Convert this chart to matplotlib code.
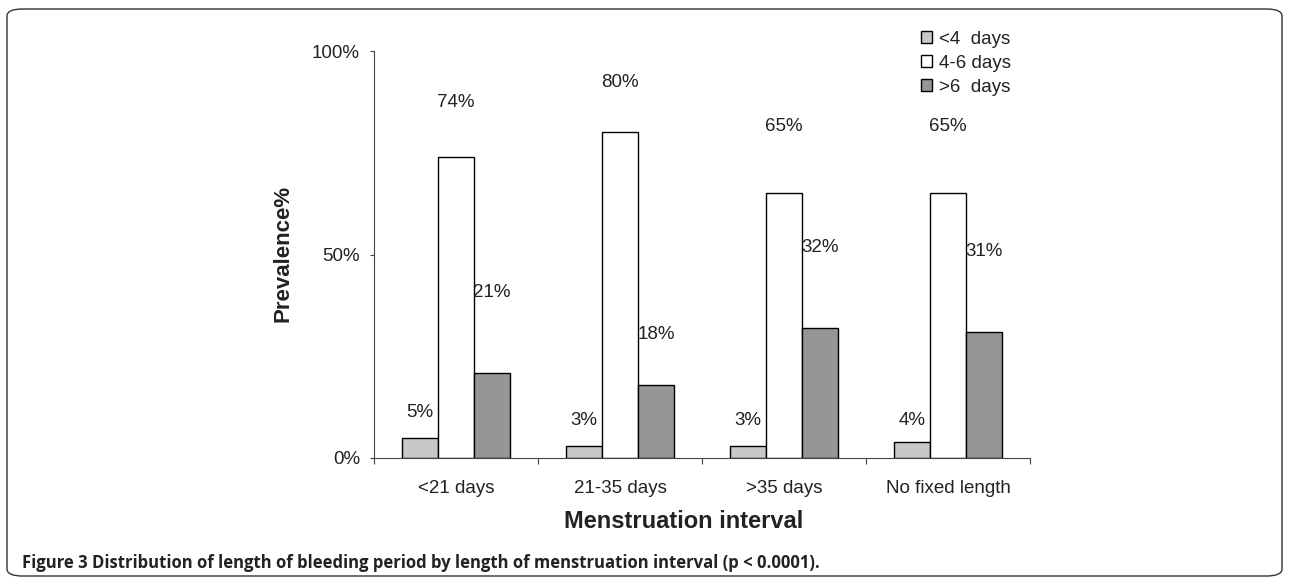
import matplotlib
matplotlib.use("Agg")
import matplotlib.pyplot as plt
import numpy as np
from matplotlib.patches import FancyBboxPatch

categories = ["<21 days", "21-35 days", ">35 days", "No fixed length"]
series_names = ["<4  days", "4-6 days", ">6  days"]
short_vals = [5, 3, 3, 4]
mid_vals = [74, 80, 65, 65]
long_vals = [21, 18, 32, 31]
y_ticks = [0, 50, 100]
y_ticklabels = ["0%", "50%", "100%"]

# style/layout
colors = ["#c8c8c8", "#ffffff", "#969696"]
label_offsets_px = [[25, 25, 25, 21], [54, 50, 67, 67], [80, 50, 80, 80]]
FS = 13.5

W, H = 1289, 581
fig = plt.figure(figsize=(W / 100, H / 100), dpi=100)
plt.rcParams['font.family'] = ['Liberation Sans', 'DejaVu Sans']

ax = fig.add_axes([374 / W, 1 - 458 / H, (1030 - 374) / W, (458 - 51) / H])

series = [short_vals, mid_vals, long_vals]
bw = 36 / 164
x = np.arange(len(categories)) + 0.5
for i, (vals, c, name) in enumerate(zip(series, colors, series_names)):
    xs = x + (i - 1) * bw
    ax.bar(xs, vals, width=bw, color=c, edgecolor="black", linewidth=1.0, label=name)
    for xi, v, off in zip(xs, vals, label_offsets_px[i]):
        ax.annotate(f"{v}%", (xi, v), xytext=(0, off * 72 / 100), textcoords="offset points",
                    ha="center", va="center", fontsize=FS, color="#222222")

ax.set_xlim(0, len(categories))
ax.set_ylim(0, 100)
ax.set_yticks(y_ticks)
ax.set_yticklabels(y_ticklabels, fontsize=FS, color="#222222")
ax.set_xticks(np.arange(len(categories) + 1))
ax.set_xticklabels([])
ax.set_xticks(x, minor=True)
ax.set_xticklabels(categories, minor=True, fontsize=FS, color="#222222")
ax.tick_params(axis="x", which="minor", length=0, pad=16)
ax.tick_params(axis="x", which="major", length=4, width=0.8, color="#444444")
ax.tick_params(axis="y", length=3, width=0.8, color="#444444", pad=7)
for s in ["top", "right"]:
    ax.spines[s].set_visible(False)
ax.spines["left"].set_color("#444444")
ax.spines["bottom"].set_color("#444444")
ax.spines["left"].set_linewidth(0.8)
ax.spines["bottom"].set_linewidth(0.8)

fig.text(684 / W, 1 - 521 / H, "Menstruation interval", fontsize=17, fontweight="bold",
         color="#222222", ha="center", va="center")
fig.text(283 / W, 1 - 253 / H, "Prevalence%", rotation=90, fontsize=16, fontweight="bold",
         color="#222222", ha="center", va="center")

leg = ax.legend(loc="upper left", bbox_to_anchor=((913 - 374) / (1030 - 374), 1 + (51 - 23) / (458 - 51)),
                frameon=False, fontsize=FS, handlelength=0.6, handleheight=0.6, handletextpad=0.4,
                labelspacing=0.38, borderaxespad=0)
for t in leg.get_texts():
    t.set_color("#222222")

border = FancyBboxPatch((7 / W, 5 / H), (W - 14) / W, (H - 14) / H,
                        boxstyle="round,pad=0,rounding_size=0.012",
                        transform=fig.transFigure, fill=False, edgecolor="#333333", linewidth=1.0)
fig.patches.append(border)

t1 = fig.text(22 / W, 1 - 563 / H, "Figure 3", fontsize=12, fontweight="bold",
              family=["Open Sans", "DejaVu Sans"], va="center", color="#222222")
fig.canvas.draw()
bb = t1.get_window_extent()
fig.text((bb.x1 + 4) / W, 1 - 563 / H,
         "Distribution of length of bleeding period by length of menstruation interval (p < 0.0001).",
         fontsize=12, fontweight="bold", family=["Open Sans", "DejaVu Sans"], va="center", color="#222222")

fig.savefig("out.png", dpi=100)
